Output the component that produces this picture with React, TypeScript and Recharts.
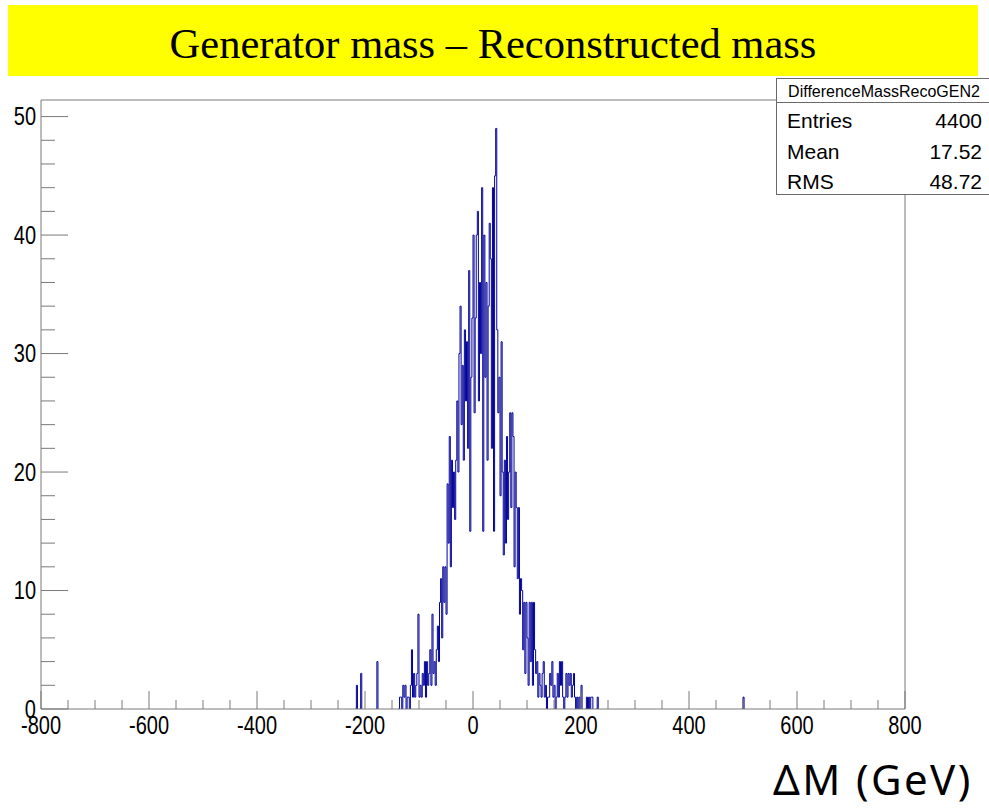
import { LineChart, Line, XAxis, YAxis, ReferenceLine } from 'recharts';

const binWidth = 2;
const coreStart = -140;
const coreCounts = [
  0, 0, 1, 1, 0, 2, 1, 2, 0, 1, 1, 0, 2, 5, 1, 3, 1, 2, 3, 8,
  1, 2, 1, 3, 2, 4, 1, 4, 2, 3, 5, 2, 8, 3, 4, 2, 5, 7, 4, 9,
  11, 6, 12, 9, 12, 8, 19, 14, 23, 12, 21, 17, 20, 16, 21,
  26, 20, 30, 34, 24, 29, 21, 32, 26, 31, 22, 37, 15, 28, 33,
  40, 25, 33, 40, 42, 26, 36, 30, 44, 15, 40, 28, 36, 21, 34,
  41, 38, 22, 44, 15, 45, 49, 32, 25, 28, 18, 31, 20, 13, 21,
  14, 23, 16, 20, 25, 17, 25, 23, 12, 20, 17, 11, 17, 8, 11,
  10, 5, 9, 3, 9, 6, 2, 9, 4, 9, 2, 9, 5, 3, 4,
  1, 3, 2, 1, 3, 4, 1, 2, 0, 1, 1, 3, 2, 4, 1, 2, 0, 1, 3, 1,
  4, 2, 4, 1, 0, 1, 3, 1, 3, 2, 3, 1, 2, 3, 1, 0, 1, 0, 1, 0,
  2, 0, 0, 0, 0, 1, 0, 1, 0, 1, 1, 0, 0, 0, 0, 1,
];
const outlierBins = [-216, -208, -178, 500];
const outlierCounts = [2, 3, 4, 1];

const xTicks = [
  -800, -750, -700, -650, -600, -550, -500, -450, -400, -350, -300, -250, -200, -150, -100, -50,
  0, 50, 100, 150, 200, 250, 300, 350, 400, 450, 500, 550, 600, 650, 700, 750, 800,
];
const xLabels = [-800, -600, -400, -200, 0, 200, 400, 600, 800];
const yTicks = [0, 2, 4, 6, 8, 10, 12, 14, 16, 18, 20, 22, 24, 26, 28, 30, 32, 34, 36, 38, 40, 42, 44, 46, 48, 50];
const yLabels = [0, 10, 20, 30, 40, 50];

const statNames = ['Entries', 'Mean', 'RMS'];
const statValues = ['4400', '17.52', '48.72'];

const X_MIN = -800;
const X_MAX = 800;
const Y_MAX = 51.4;

const counts = new Map<number, number>();
coreCounts.forEach((n, i) => counts.set(coreStart + i * binWidth, n));
outlierBins.forEach((b, i) => counts.set(b, outlierCounts[i]));

const edges: number[] = [];
for (let e = X_MIN; e < X_MAX; e += binWidth) edges.push(e);

// empty stretches are left out so the outline does not paint over the axis
const data = edges.map((e) => {
  const n = counts.get(e) || 0;
  const prev = counts.get(e - binWidth) || 0;
  const next = counts.get(e + binWidth) || 0;
  return { x: e, n: n === 0 && prev === 0 && next === 0 ? null : n };
});

const axisGrey = '#7a7a7a';
const labelFont = '"Liberation Sans", Arial, sans-serif';

// ROOT labels look condensed, so squeeze a regular sans horizontally
function XTick({ x, y, payload }: any) {
  const major = xLabels.includes(payload.value);
  return (
    <g>
      <line x1={x} y1={y} x2={x} y2={y - (major ? 18 : 9)} stroke={axisGrey} strokeWidth={1} />
      {major && (
        <text
          transform={`translate(${x},${y + 25}) scale(0.8,1)`}
          textAnchor="middle"
          fontFamily={labelFont}
          fontSize={25}
          fill="#000"
        >
          {payload.value}
        </text>
      )}
    </g>
  );
}

function YTick({ x, y, payload }: any) {
  const major = yLabels.includes(payload.value);
  return (
    <g>
      <line x1={x} y1={y} x2={x + (major ? 27 : 14)} y2={y} stroke={axisGrey} strokeWidth={1} />
      {major && (
        <text
          transform={`translate(${x - 5},${y + 8.5}) scale(0.8,1)`}
          textAnchor="end"
          fontFamily={labelFont}
          fontSize={25}
          fill="#000"
        >
          {payload.value}
        </text>
      )}
    </g>
  );
}

export default function App() {
  const statFont = '"Liberation Sans", Arial, sans-serif';
  return (
    <div style={{ position: 'fixed', left: 0, top: 0, width: 989, height: 808, overflow: 'hidden', background: '#fff' }}>
      <div style={{ position: 'absolute', left: 0, top: 0 }}>
        <LineChart width={989} height={808} data={data} margin={{ top: 100, right: 84, bottom: 59, left: 0 }}>
          <XAxis
            dataKey="x"
            type="number"
            domain={[X_MIN, X_MAX]}
            ticks={xTicks}
            interval={0}
            height={40}
            tickSize={0}
            tickMargin={0}
            tickLine={false}
            axisLine={{ stroke: axisGrey, strokeWidth: 1 }}
            tick={<XTick />}
            allowDataOverflow
          />
          <YAxis
            type="number"
            domain={[0, Y_MAX]}
            ticks={yTicks}
            interval={0}
            width={41}
            tickSize={0}
            tickMargin={0}
            tickLine={false}
            axisLine={{ stroke: axisGrey, strokeWidth: 1 }}
            tick={<YTick />}
            allowDataOverflow
          />
          <ReferenceLine y={Y_MAX} stroke={axisGrey} strokeWidth={1} />
          <ReferenceLine x={X_MAX} stroke={axisGrey} strokeWidth={1} />
          <Line
            type="stepAfter"
            dataKey="n"
            stroke="#000099"
            strokeWidth={1}
            dot={false}
            activeDot={false}
            connectNulls={false}
            isAnimationActive={false}
          />
        </LineChart>
      </div>

      <div style={{ position: 'absolute', left: 8, top: 5, width: 970, height: 71, background: '#ffff00' }}>
        <div
          style={{
            position: 'absolute', left: 0, top: 18, width: '100%', textAlign: 'center',
            fontFamily: '"Liberation Serif", "Times New Roman", serif', fontSize: 42.5, lineHeight: '42px', color: '#000',
          }}
        >
          Generator mass – Reconstructed mass
        </div>
      </div>

      <div style={{ position: 'absolute', left: 776, top: 78, width: 216, height: 117, background: '#fff', border: '1px solid #6a6a6a', boxSizing: 'border-box', fontFamily: statFont, color: '#000' }}>
        <div style={{ position: 'absolute', left: 0, top: 5, width: '100%', textAlign: 'center', fontSize: 16, lineHeight: '16px' }}>
          DifferenceMassRecoGEN2
        </div>
        <div style={{ position: 'absolute', left: 0, top: 23, width: '100%', borderTop: '1px solid #6a6a6a' }} />
        {statNames.map((name, i) => (
          <div key={name} style={{ position: 'absolute', left: 10, right: 9, top: [31, 62, 92][i], fontSize: 21, lineHeight: '21px', display: 'flex', justifyContent: 'space-between' }}>
            <span>{name}</span>
            <span>{statValues[i]}</span>
          </div>
        ))}
      </div>

      <div style={{ position: 'absolute', left: 773, top: 758, fontFamily: '"Noto Sans", sans-serif', fontSize: 42, lineHeight: '42px', letterSpacing: 2.4, color: '#000', whiteSpace: 'nowrap' }}>
        ΔM (GeV)
      </div>
    </div>
  );
}
